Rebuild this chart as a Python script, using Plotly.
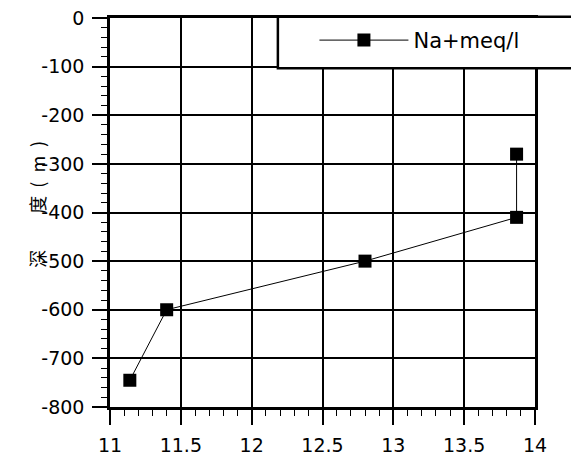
import plotly.graph_objects as go

# Sodium concentration (meq/l) against depth (m)
na_meq = [11.14, 11.40, 12.80, 13.87, 13.87]
depth_m = [-745, -600, -500, -410, -280]
series_name = "Na+meq/l"

x_ticks = [11, 11.5, 12, 12.5, 13, 13.5, 14]
x_tick_text = ["11", "11.5", "12", "12.5", "13", "13.5", "14"]
y_ticks = [0, -100, -200, -300, -400, -500, -600, -700, -800]
y_tick_text = ["0", "-100", "-200", "-300", "-400", "-500", "-600", "-700", "-800"]

tick_font = dict(family="DejaVu Sans", size=19, color="black")

fig = go.Figure()
fig.add_trace(go.Scatter(
    x=na_meq, y=depth_m, name=series_name,
    mode="lines+markers",
    line=dict(color="black", width=1),
    marker=dict(symbol="square", size=13, color="black"),
))

axis_common = dict(
    showline=True, linecolor="black", linewidth=2.5, mirror=True,
    showgrid=True, gridcolor="black", gridwidth=1.5,
    ticks="outside", ticklen=15, tickwidth=1.5, tickcolor="black",
    tickfont=tick_font, zeroline=False, ticklabelstandoff=4,
    automargin=False,
)

fig.update_xaxes(
    range=[11, 14], tickvals=x_ticks, ticktext=x_tick_text,
    minor=dict(dtick=0.1, ticks="outside", ticklen=6, tickwidth=1, tickcolor="black", showgrid=False),
    **axis_common,
)
fig.update_yaxes(
    range=[-800, 0], tickvals=y_ticks, ticktext=y_tick_text,
    minor=dict(dtick=20, ticks="outside", ticklen=6, tickwidth=1, tickcolor="black", showgrid=False),
    **axis_common,
)

# Legend frame, extending past the right edge of the plot
fig.add_shape(
    type="rect", xref="paper", yref="paper",
    x0=0.395, x1=1.2, y0=0.871, y1=1.003,
    line=dict(color="black", width=2.5), fillcolor="white", layer="above",
)

fig.add_annotation(
    text="深　　度  (\u2002m\u2002)", xref="paper", yref="paper",
    x=-0.207, y=0.52, showarrow=False, textangle=-90,
    font=dict(family="Noto Sans CJK SC", size=18, color="black"),
)

fig.update_layout(
    width=571, height=460,
    margin=dict(l=110, r=36, t=18, b=53),
    paper_bgcolor="white", plot_bgcolor="white",
    showlegend=True,
    legend=dict(
        x=0.481, y=0.995, xanchor="left", yanchor="top",
        bgcolor="rgba(0,0,0,0)", borderwidth=0,
        font=dict(family="DejaVu Sans", size=21, color="black"),
        itemwidth=89,
    ),
)

fig.write_html("out.html")
